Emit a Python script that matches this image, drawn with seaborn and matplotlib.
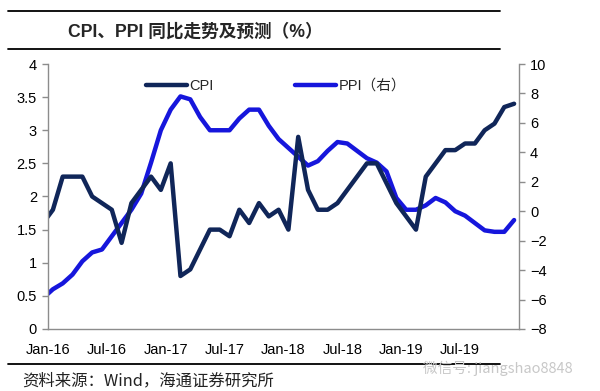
import pandas as pd
import numpy as np
import matplotlib.pyplot as plt
import seaborn as sns

# month positions: Dec-15 sits half a month left of the Jan-16 tick (clipped by the axis)
months = pd.period_range("2015-12", "2019-12", freq="M")
cpi = [1.6,
       1.8, 2.3, 2.3, 2.3, 2.0, 1.9, 1.8, 1.3, 1.9, 2.1, 2.3, 2.1,
       2.5, 0.8, 0.9, 1.2, 1.5, 1.5, 1.4, 1.8, 1.6, 1.9, 1.7, 1.8,
       1.5, 2.9, 2.1, 1.8, 1.8, 1.9, 2.1, 2.3, 2.5, 2.5, 2.2, 1.9,
       1.7, 1.5, 2.3, 2.5, 2.7, 2.7, 2.8, 2.8, 3.0, 3.1, 3.35, 3.4]
ppi = [-5.9,
       -5.3, -4.9, -4.3, -3.4, -2.8, -2.6, -1.7, -0.8, 0.1, 1.2, 3.3, 5.5,
       6.9, 7.8, 7.6, 6.4, 5.5, 5.5, 5.5, 6.3, 6.9, 6.9, 5.8, 4.9,
       4.3, 3.7, 3.1, 3.4, 4.1, 4.7, 4.6, 4.1, 3.6, 3.3, 2.7, 0.9,
       0.1, 0.1, 0.4, 0.9, 0.6, 0.0, -0.3, -0.8, -1.3, -1.4, -1.4, -0.6]
tick_labels = ["Jan-16", "Jul-16", "Jan-17", "Jul-17", "Jan-18", "Jul-18", "Jan-19", "Jul-19"]

df = pd.DataFrame({"pos": np.arange(len(months)) - 0.5, "CPI": cpi, "PPI": ppi})

sns.set_style("white")
plt.rcParams["font.family"] = ["Liberation Sans", "Noto Sans CJK SC", "DejaVu Sans"]

cpi_color = "#102659"
ppi_color = "#1616dc"
grey = "#8c8c8c"

fig = plt.figure(figsize=(6, 3.91), dpi=100)
ax = fig.add_axes([0.08, 0.1586, 0.785, 0.6777])
ax2 = ax.twinx()

sns.lineplot(data=df, x="pos", y="PPI", ax=ax2, color=ppi_color, lw=3.2,
             solid_joinstyle="round", solid_capstyle="round", label="PPI（右）", legend=False)
sns.lineplot(data=df, x="pos", y="CPI", ax=ax, color=cpi_color, lw=3.2,
             solid_joinstyle="round", solid_capstyle="round", label="CPI", legend=False)
ax.set_zorder(ax2.get_zorder() + 1)
ax.patch.set_visible(False)

ax.set_xlim(0, 48)
ax.set_ylim(0, 4)
ax2.set_ylim(-8, 10)
ax.set_xticks(np.arange(0, 48, 6))
ax.set_xticklabels(tick_labels)
ax.set_yticks(np.arange(0, 4.01, 0.5))
ax.set_yticklabels(["0", "0.5", "1", "1.5", "2", "2.5", "3", "3.5", "4"])
ax2.set_yticks(np.arange(-8, 10.1, 2))
ax.set_xlabel("")
ax.set_ylabel("")
ax2.set_ylabel("")

for a in (ax, ax2):
    a.spines["top"].set_visible(False)
    for side in ("left", "right", "bottom"):
        a.spines[side].set_color(grey)
        a.spines[side].set_linewidth(1.0)
    a.tick_params(length=4, width=1, color=grey, labelsize=10.5, labelcolor="black",
                  direction="out", pad=4)
ax.spines["right"].set_visible(False)
ax2.spines["left"].set_visible(False)
ax2.spines["bottom"].set_visible(False)
ax.tick_params(axis="x", pad=6)

handles = ax.get_lines()[:1] + ax2.get_lines()[:1]
fig.legend(handles, ["CPI", "PPI（右）"], loc="center left",
           bbox_to_anchor=(0.222, 0.78), ncol=2, frameon=False, fontsize=10.5,
           handlelength=2.8, handletextpad=0.15, columnspacing=5.6)

# title and frame lines
fig.add_artist(plt.Line2D([0.013, 0.833], [0.972, 0.972], color="black", lw=1.3))
fig.add_artist(plt.Line2D([0.013, 0.833], [0.875, 0.875], color="black", lw=1.3))
fig.add_artist(plt.Line2D([0.013, 0.833], [0.069, 0.069], color="black", lw=1.3))
fig.text(0.113, 0.918, "CPI、PPI 同比走势及预测（%）", fontsize=12.7, fontweight="bold",
         va="center", ha="left", family=["Liberation Sans", "Noto Sans CJK SC"])
fig.text(0.037, 0.025, "资料来源：Wind，海通证券研究所", fontsize=11.8, va="center", ha="left",
         family=["Noto Sans CJK SC", "DejaVu Sans"], color="#222222")
fig.text(0.705, 0.058, "微信号: jiangshao8848", fontsize=10.5, va="center", ha="left",
         color="#c8c8c8", family=["Noto Sans CJK SC", "DejaVu Sans"])

fig.savefig("out.png", dpi=100)
